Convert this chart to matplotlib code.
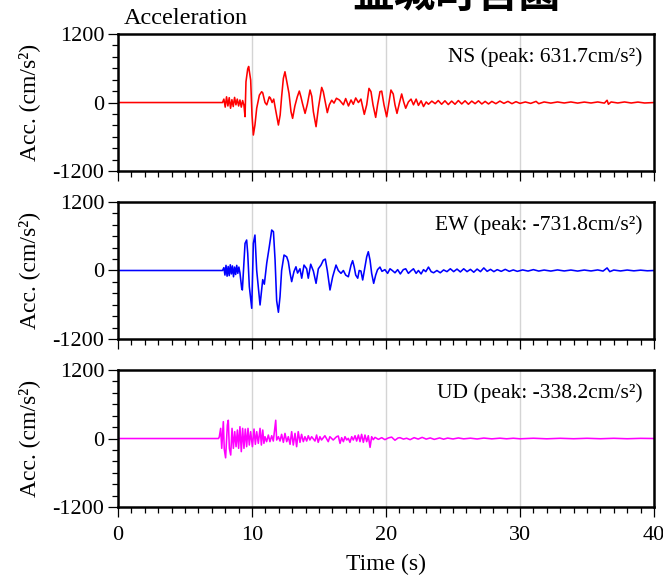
import numpy as np
import matplotlib
matplotlib.use('Agg')
import matplotlib.pyplot as plt
from matplotlib.ticker import MultipleLocator

plt.rcParams['font.family'] = ['Liberation Serif', 'DejaVu Serif']
plt.rcParams['axes.unicode_minus'] = False

station = '益城町宮園'
components = ['NS', 'EW', 'UD']
colors = ['#ff0000', '#0000ff', '#ff00ff']

# (time s, acceleration cm/s2) vertices of each record
ns_rec = [(0, 0), (7.8, 0),
          (7.9, 60), (8.0, -80), (8.1, 100), (8.2, -60), (8.3, 85), (8.4, -100), (8.5, 50), (8.6, -70),
          (8.7, 90), (8.8, -40), (8.9, 60), (9.0, -60), (9.1, 45), (9.2, -80), (9.3, 35), (9.4, -50),
          (9.48, -248), (9.55, 364), (9.68, 590), (9.75, 631.7), (9.9, 394), (10.0, -219), (10.1, -569),
          (10.22, -394), (10.35, -100), (10.55, 130), (10.72, 189), (10.8, 170), (10.97, 0), (11.1, -40),
          (11.29, 100), (11.37, 80), (11.5, 0), (11.62, 60), (11.74, -100), (11.97, -394), (12.1, -220),
          (12.21, 100), (12.34, 423), (12.46, 539), (12.58, 390), (12.76, 160), (12.91, -160), (13.03, -277),
          (13.2, -60), (13.38, 100), (13.53, 201), (13.65, 100), (13.77, -20), (13.96, -190), (14.13, -30),
          (14.33, 219), (14.46, 110), (14.58, -160), (14.78, -423), (14.95, -100), (15.2, 265), (15.32, 190),
          (15.5, -30), (15.62, -177), (15.77, -40), (15.95, 40), (16.12, -10), (16.3, 75), (16.52, 45),
          (16.82, -40), (16.99, 70), (17.2, -60), (17.39, 45), (17.56, -30), (17.74, 80), (17.94, 0),
          (18.13, 60), (18.38, -207), (18.56, -40), (18.73, 248), (18.88, 190), (19.03, -40), (19.23, -260),
          (19.37, -40), (19.55, 190), (19.68, 200), (19.85, -40), (20.05, -250), (20.22, 0), (20.37, 219),
          (20.54, 150), (20.67, -40), (20.82, -190), (21.0, -10), (21.17, 150), (21.32, 10), (21.47, -100),
          (21.67, 10), (21.87, 60), (22.05, -40), (22.25, 60), (22.42, -50), (22.62, 30), (22.8, -70),
          (23.0, 10), (23.17, -30), (23.42, 25), (23.67, -20),
          (23.9, 35), (24.15, -30), (24.4, 30), (24.65, -35), (24.9, 25), (25.15, -30), (25.4, 35),
          (25.65, -25), (25.9, 30), (26.15, -30), (26.4, 25), (26.65, -20), (26.9, 30), (27.15, -25),
          (27.4, 20), (27.65, -25), (27.9, 20), (28.2, -20), (28.5, 25), (28.8, -15), (29.1, 20),
          (29.4, -20), (29.7, 15), (30.0, -15), (30.4, 10), (30.8, -15), (31.2, 20), (31.4, -20),
          (31.8, 10), (32.3, -10), (32.8, 10), (33.3, -8), (33.8, 10), (34.3, -10), (34.8, 8), (35.3, -8),
          (35.8, 10), (36.3, -10), (36.5, 40), (36.6, -30), (36.8, 10), (37.3, -8), (37.8, 10), (38.3, -8),
          (38.8, 8), (39.3, -8), (40, 0)]

ew_rec = [(0, 0), (7.8, 0),
          (7.9, 50), (7.98, -80), (8.06, 90), (8.14, -100), (8.22, 70), (8.3, -90), (8.38, 100), (8.46, -60),
          (8.54, 80), (8.62, -110), (8.7, 60), (8.78, -70), (8.86, 90), (8.94, -50), (9.02, 60), (9.1, -40),
          (9.23, -312), (9.28, -341), (9.48, 475), (9.6, 534), (9.68, 300), (9.8, -282), (9.98, -662),
          (10.1, 475), (10.22, 621), (10.35, 0), (10.6, -604), (10.8, -160), (10.92, -240), (11.1, 130),
          (11.29, 417), (11.47, 709), (11.6, 680), (11.72, 190), (11.84, -530), (11.97, -731.8), (12.09, -460),
          (12.21, 0), (12.39, 271), (12.59, 240), (12.71, 155), (12.84, -45), (12.96, -195), (13.13, -20),
          (13.28, 65), (13.4, -45), (13.58, 30), (13.71, -135), (13.88, 95), (14.08, 30), (14.2, -135),
          (14.38, 110), (14.58, -10), (14.78, -225), (14.95, 30), (15.15, 95), (15.32, 180), (15.47, 200),
          (15.62, 0), (15.82, -341), (16.02, -110), (16.27, 95), (16.44, 0),
          (16.64, -50), (16.82, 0), (16.99, -80), (17.19, -110), (17.39, 95), (17.51, 172), (17.63, 60),
          (17.74, -80), (17.89, -135), (18.0, 0), (18.13, -10), (18.26, -166), (18.43, 60), (18.56, 240),
          (18.68, 329), (18.81, 180), (18.93, -50), (19.08, -225), (19.23, -80), (19.37, 15), (19.55, 60),
          (19.7, -15), (19.92, 15), (20.12, -50), (20.3, 30), (20.47, 0), (20.67, -40), (20.87, 15),
          (21.07, -60), (21.29, 15), (21.47, 30), (21.67, -50), (21.87, -5), (22.05, 30), (22.25, -50),
          (22.42, 0), (22.62, -60), (22.8, 15), (22.97, -20), (23.17, 60), (23.37, -20), (23.55, -40),
          (23.8, 0), (24.05, -40), (24.3, 10), (24.55, -20),
          (24.8, 30), (25.05, -20), (25.3, 25), (25.55, -25), (25.8, 30), (26.05, -20), (26.3, 20),
          (26.55, -30), (26.8, 25), (27.05, -20), (27.3, 45), (27.55, -15), (27.8, 20), (28.05, -20),
          (28.3, 15), (28.6, -15), (28.9, 20), (29.2, -15), (29.5, 10), (29.8, -15), (30.2, 10), (30.6, -10),
          (31.0, 15), (31.4, -10), (31.8, 8), (32.3, -10), (32.8, 10), (33.3, -8), (33.8, 8), (34.3, -10),
          (34.8, 8), (35.3, -8), (35.8, 10), (36.2, -10), (36.5, 45), (36.7, -20), (37.0, 8), (37.5, -8),
          (38.0, 8), (38.5, -6), (39.0, 6), (39.5, -5), (40, 0)]

ud_rec = [(0, 0), (7.5, 0),
          (7.56, 30), (7.66, 178), (7.74, -172), (7.86, 295), (7.93, -190), (8.03, -338.2), (8.16, 236),
          (8.23, 320), (8.31, -172), (8.41, -289), (8.51, 178), (8.61, -172), (8.71, 120), (8.81, -143),
          (8.91, 149), (9.0, -172), (9.1, 207), (9.2, -230), (9.3, 178), (9.4, -172), (9.5, 166), (9.6, -143),
          (9.7, 178), (9.8, -114), (9.9, 120), (10.03, -143), (10.15, 166), (10.25, -102), (10.35, 120),
          (10.47, -85), (10.6, 178), (10.7, -114), (10.8, 149), (10.89, -85), (10.97, 32), (11.09, -55),
          (11.22, 61), (11.34, -55), (11.47, 49), (11.59, -44), (11.77, 320), (11.84, -26), (11.97, 32),
          (12.09, -44), (12.21, 73), (12.34, -67), (12.46, 90), (12.59, -55), (12.71, 32), (12.84, -102),
          (12.96, 120), (13.08, -114), (13.21, 90), (13.33, -143), (13.45, 120), (13.58, -67), (13.7, 73),
          (13.83, -55), (13.95, 32), (14.08, -44), (14.2, 49), (14.32, -26), (14.45, 32), (14.7, -44),
          (14.82, 61), (14.94, -67), (15.07, 32), (15.19, -26), (15.44, 49), (15.69, -55), (15.81, 32),
          (16.06, -26), (16.31, 32), (16.44, 44), (16.57, -85), (16.69, 15), (16.82, -55), (16.94, 32),
          (17.07, -26), (17.19, 3), (17.31, -67), (17.44, 32), (17.56, -26), (17.69, 49), (17.81, -44),
          (17.94, 61), (18.06, -55), (18.18, 73), (18.31, -67), (18.43, 61), (18.56, -55), (18.68, 49),
          (18.81, -155), (18.93, 32), (19.05, -20), (19.18, 20), (19.43, -15), (19.68, 15), (19.92, -20),
          (20.17, 10), (20.42, 25), (20.67, -30), (20.9, 10), (21.04, 15), (21.3, -10), (21.54, 5),
          (21.8, -20), (22.1, 15), (22.4, -10), (22.7, 20), (23.0, -10), (23.3, 10), (23.6, -15), (24.0, 10),
          (24.3, -12), (24.6, 8), (25.0, -8), (25.4, 10), (25.8, -6), (26.3, 6), (26.8, -8), (27.3, 8),
          (27.9, -6), (28.5, 6), (29.0, -5), (29.5, 5), (30.0, -5), (31, 5), (32, -5), (33, 4), (34, -4),
          (35, 4), (36, -4), (37, 4), (38, -4), (39, 3), (40, 0)]

records = [ns_rec, ew_rec, ud_rec]

fig = plt.figure(figsize=(6.63, 5.77), dpi=100)

# panel boxes in figure fraction
left, width, height = 0.178, 0.8084, 0.2374
bottoms = [0.7036, 0.4125, 0.1213]

fs = 16
for i in range(3):
    ax = fig.add_axes([left, bottoms[i], width, height])
    t, acc = np.array(records[i]).T
    ax.plot(t, acc, color=colors[i], lw=1.15)

    ax.set_xlim(0, 40)
    ax.set_ylim(-1200, 1200)
    ax.set_yticks([-1200, 0, 1200])
    ax.set_xticks([0, 10, 20, 30, 40])
    ax.xaxis.set_minor_locator(MultipleLocator(1))
    ax.yaxis.set_minor_locator(MultipleLocator(200))
    ax.tick_params(which='major', direction='out', length=7, width=0.9, labelsize=fs, pad=3)
    ax.tick_params(which='minor', direction='out', length=4, width=0.9)
    ax.tick_params(axis='x', which='major', pad=7)
    ax.grid(axis='x', color='#d4d4d4', lw=1.0)
    for s in ax.spines.values():
        s.set_linewidth(1.8)

    if i < 2:
        ax.tick_params(axis='x', labelbottom=False)
    else:
        ax.set_xlabel('Time (s)', fontsize=fs + 1, labelpad=6)

    ax.set_ylabel('Acc. (cm/s²)', fontsize=fs + 1)
    ax.yaxis.set_label_coords(-0.146, 0.5)

    peak = acc[np.argmax(np.abs(acc))]
    ax.text(0.978, 0.83, '%s (peak: %.1fcm/s²)' % (components[i], peak),
            transform=ax.transAxes, ha='right', va='center', fontsize=fs - 0.5)

    if i == 0:
        ax.text(0.01, 1.073, 'Acceleration', transform=ax.transAxes,
                ha='left', va='baseline', fontsize=17.5)

fig.text(0.688, 1 - 16 / 577, station, ha='center', va='bottom', fontsize=30,
         fontweight='bold', family=['Noto Sans CJK JP', 'DejaVu Sans'])

fig.savefig('out.png', dpi=100)
